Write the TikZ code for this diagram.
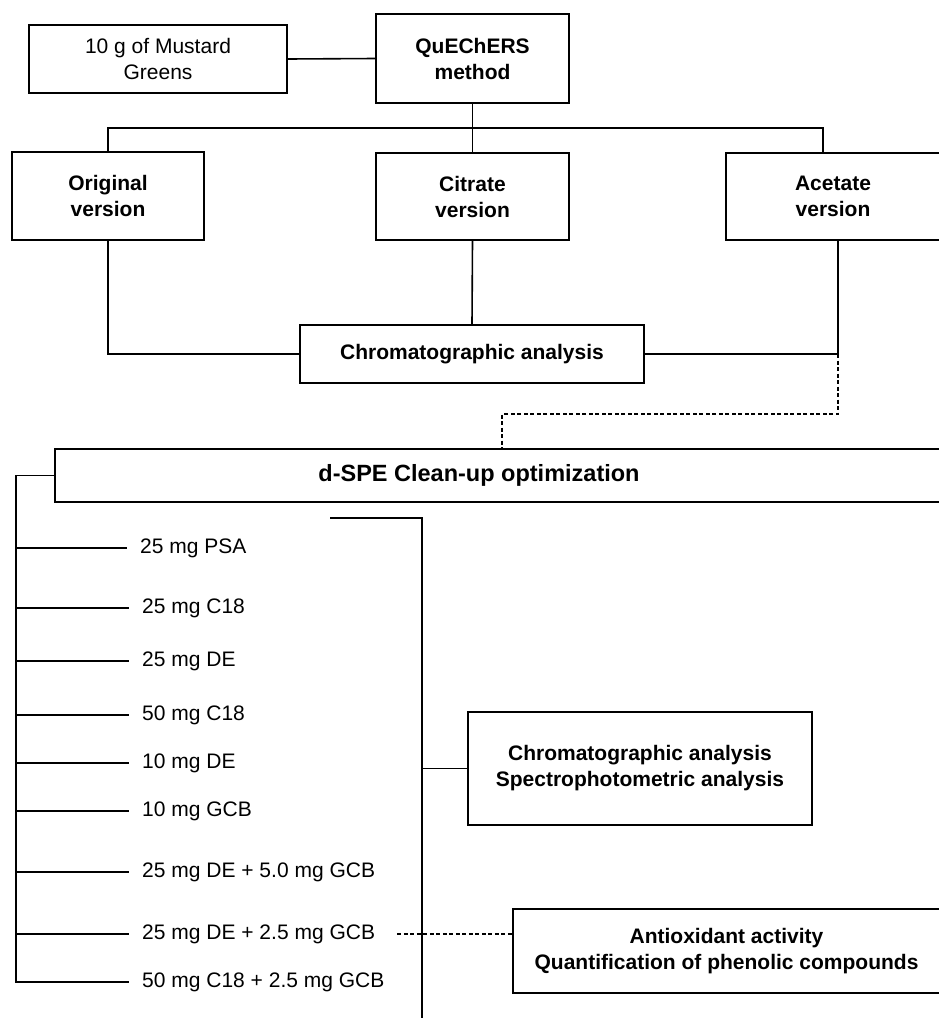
\documentclass[tikz,border=0pt]{standalone}
\usepackage{fontspec}
\setmainfont{Liberation Sans}

\tikzset{
  box/.style={draw, line width=1.6pt, align=center, inner sep=0pt, font=\fontsize{21}{26}\selectfont},
  boldbox/.style={box, font=\fontsize{21}{26}\selectfont\bfseries},
  item/.style={anchor=west, inner xsep=13pt, inner ysep=2pt, font=\fontsize{21}{26}\selectfont},
  wire/.style={line width=1.6pt},
  dashwire/.style={line width=1.3pt, dash pattern=on 4pt off 2.5pt}
}

\begin{document}
\begin{tikzpicture}[x=1pt, y=-1pt]

\useasboundingbox (0,0) rectangle (939,1023);

\node[box, minimum width=258pt, minimum height=68pt] (must) at (158,59) {10 g of Mustard\\Greens};
\node[boldbox, minimum width=193pt, minimum height=89pt] (quech) at (472.5,58.5) {QuEChERS\\method};

\node[boldbox, minimum width=192pt, minimum height=88pt] (orig) at (108,196) {Original\\version};
\node[boldbox, minimum width=193pt, minimum height=87pt] (citr) at (472.5,196.5) {Citrate\\version};
\node[boldbox, minimum width=214pt, minimum height=87pt] (acet) at (833,196.5) {Acetate\\version};

\node[boldbox, minimum width=344pt, minimum height=58pt] (chrom) at (472,354) {Chromatographic analysis};

\node[box, minimum width=885pt, minimum height=53pt, font=\fontsize{23.5}{28}\selectfont\bfseries] (dspe) at (497.5,475.5) {d-SPE Clean-up optimization\hspace*{37pt}};

\node[item] (i1) at (127,548) {25 mg PSA};
\node[item] (i2) at (129,608) {25 mg C18};
\node[item] (i3) at (129,661) {25 mg DE};
\node[item] (i4) at (129,715) {50 mg C18};
\node[item] (i5) at (129,763) {10 mg DE};
\node[item] (i6) at (129,811) {10 mg GCB};
\node[item] (i7) at (129,872) {25 mg DE + 5.0 mg GCB};
\node[item] (i8) at (129,934) {25 mg DE + 2.5 mg GCB};
\node[item] (i9) at (129,982) {50 mg C18 + 2.5 mg GCB};

\node[boldbox, minimum width=344pt, minimum height=113pt] (spec) at (640,768.5) {Chromatographic analysis\\Spectrophotometric analysis};
\node[boldbox, minimum width=427pt, minimum height=84pt] (anti) at (726.5,951) {Antioxidant activity\\Quantification of phenolic compounds};

\coordinate (split) at (472.5,128);
\coordinate (joint) at (838,354);
\coordinate (dash) at (502,414);
\coordinate (trunk) at (16,982);
\coordinate (brkend) at (330,518);
\coordinate (brktop) at (422,518);
\coordinate (brkbot) at (422,1018);

\draw[wire] (must.east) -- (quech.west);
\draw[wire] (quech.south) -- (citr.north);
\draw[wire] (orig.north) |- (split) -| ([xshift=-10pt]acet.north);

\draw[wire] (orig.south) |- (chrom.west);
\draw[wire] (citr.south) -- (chrom.north);
\draw[wire] (chrom.east) -- (joint) -- (joint |- acet.south);
\draw[dashwire] (joint) |- (dash) -- (dash |- dspe.north);

\draw[wire] (dspe.west) -| (trunk) -- (i9.west);
\foreach \n in {1,...,8}
  \draw[wire] (i\n.west -| trunk) -- (i\n.west);

\draw[wire] (brkend) -- (brktop) -- (brkbot);
\draw[wire] (spec.west) -- (spec.west -| brktop);
\draw[dashwire] ([xshift=9pt]i8.east) -- (i8.east -| anti.west);

\end{tikzpicture}
\end{document}
